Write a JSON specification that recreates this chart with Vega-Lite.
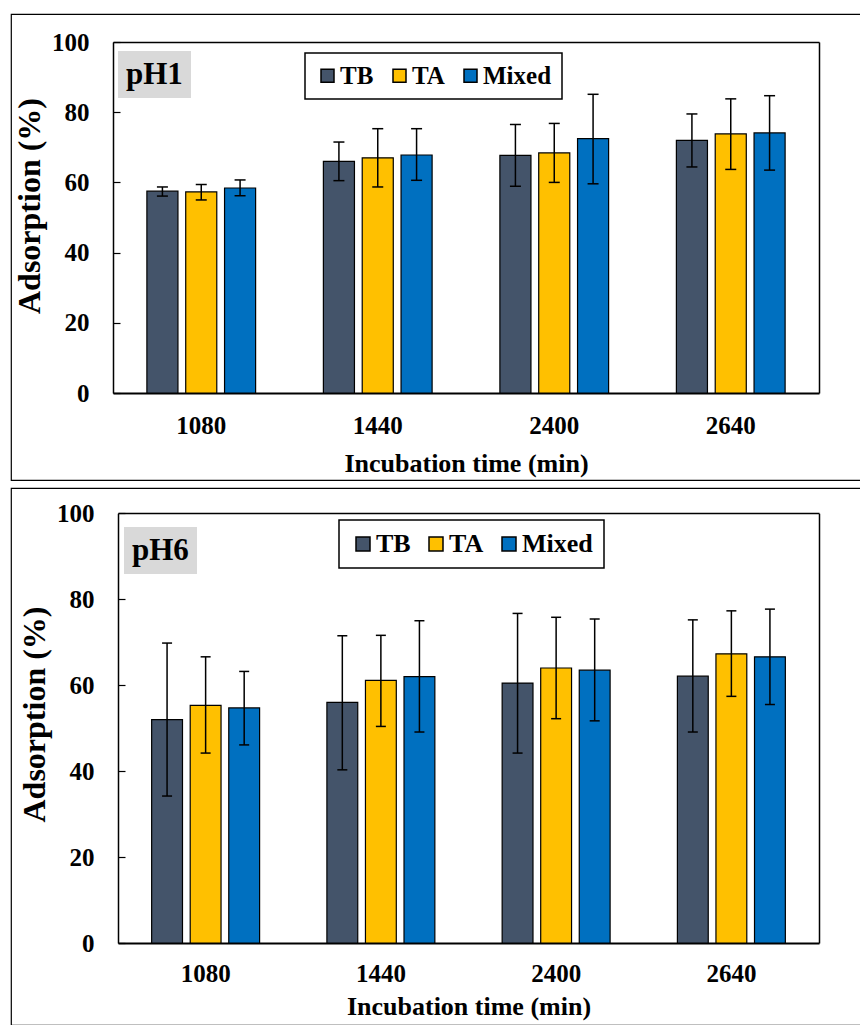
{
  "$schema": "https://vega.github.io/schema/vega-lite/v6.json",
  "padding": {"left": 10, "top": 13, "right": 0, "bottom": 0},
  "background": "white",
  "spacing": 8,
  "bounds": "flush",
  "config": {
    "view": {"stroke": "black", "strokeWidth": 1.2},
    "font": "'Liberation Serif', 'Times New Roman', serif",
    "axis": {"labelFont": "'Liberation Serif', 'Times New Roman', serif", "titleFont": "'Liberation Serif', 'Times New Roman', serif", "labelFontWeight": "bold", "titleFontWeight": "bold", "labelColor": "black", "titleColor": "black", "domainColor": "black", "tickColor": "black", "grid": false},
    "legend": {"labelFont": "'Liberation Serif', 'Times New Roman', serif", "labelFontWeight": "bold", "labelColor": "black"}
  },
  "datasets": {
    "d": [
      {"ph": "pH1", "time": "1080", "series": "TB", "value": 57.5, "lo": 56.1, "hi": 58.7},
      {"ph": "pH1", "time": "1080", "series": "TA", "value": 57.3, "lo": 55.0, "hi": 59.4},
      {"ph": "pH1", "time": "1080", "series": "Mixed", "value": 58.4, "lo": 56.2, "hi": 60.7},
      {"ph": "pH1", "time": "1440", "series": "TB", "value": 66.0, "lo": 60.5, "hi": 71.5},
      {"ph": "pH1", "time": "1440", "series": "TA", "value": 67.0, "lo": 58.7, "hi": 75.3},
      {"ph": "pH1", "time": "1440", "series": "Mixed", "value": 67.8, "lo": 60.6, "hi": 75.3},
      {"ph": "pH1", "time": "2400", "series": "TB", "value": 67.7, "lo": 58.9, "hi": 76.5},
      {"ph": "pH1", "time": "2400", "series": "TA", "value": 68.4, "lo": 60.0, "hi": 76.8},
      {"ph": "pH1", "time": "2400", "series": "Mixed", "value": 72.5, "lo": 59.6, "hi": 85.1},
      {"ph": "pH1", "time": "2640", "series": "TB", "value": 72.0, "lo": 64.4, "hi": 79.5},
      {"ph": "pH1", "time": "2640", "series": "TA", "value": 73.8, "lo": 63.7, "hi": 83.8},
      {"ph": "pH1", "time": "2640", "series": "Mixed", "value": 74.1, "lo": 63.5, "hi": 84.7},
      {"ph": "pH6", "time": "1080", "series": "TB", "value": 52.0, "lo": 34.2, "hi": 69.8},
      {"ph": "pH6", "time": "1080", "series": "TA", "value": 55.3, "lo": 44.2, "hi": 66.6},
      {"ph": "pH6", "time": "1080", "series": "Mixed", "value": 54.7, "lo": 46.1, "hi": 63.2},
      {"ph": "pH6", "time": "1440", "series": "TB", "value": 56.0, "lo": 40.3, "hi": 71.5},
      {"ph": "pH6", "time": "1440", "series": "TA", "value": 61.1, "lo": 50.4, "hi": 71.6},
      {"ph": "pH6", "time": "1440", "series": "Mixed", "value": 62.0, "lo": 49.1, "hi": 75.0},
      {"ph": "pH6", "time": "2400", "series": "TB", "value": 60.5, "lo": 44.2, "hi": 76.7},
      {"ph": "pH6", "time": "2400", "series": "TA", "value": 64.0, "lo": 52.2, "hi": 75.8},
      {"ph": "pH6", "time": "2400", "series": "Mixed", "value": 63.5, "lo": 51.7, "hi": 75.4},
      {"ph": "pH6", "time": "2640", "series": "TB", "value": 62.1, "lo": 49.1, "hi": 75.2},
      {"ph": "pH6", "time": "2640", "series": "TA", "value": 67.3, "lo": 57.4, "hi": 77.3},
      {"ph": "pH6", "time": "2640", "series": "Mixed", "value": 66.6, "lo": 55.5, "hi": 77.7}
    ]
  },
  "resolve": {
    "scale": {"x": "independent", "y": "independent", "xOffset": "independent", "strokeDash": "independent"},
    "legend": {"fill": "independent", "strokeDash": "independent"}
  },
  "vconcat": [
    {
      "width": 850,
      "height": 466,
      "data": {"name": "d"},
      "transform": [{"filter": "datum.ph === 'pH1'"}],
      "layer": [
        {
          "mark": {"type": "bar", "stroke": "black", "strokeWidth": 1.2, "opacity": 1},
          "encoding": {
            "x": {"field": "time", "type": "nominal", "sort": ["1080", "1440", "2400", "2640"],
              "scale": {"range": [102, 808], "paddingInner": 0.34, "paddingOuter": 0.17},
              "axis": {"orient": "bottom", "offset": -87, "title": "Incubation time (min)", "labelAngle": 0, "ticks": false, "tickSize": 0, "labelPadding": 20, "labelFontSize": 25, "titleFontSize": 26, "titlePadding": 12, "domainWidth": 2}},
            "xOffset": {"field": "series", "type": "nominal", "sort": ["TB", "TA", "Mixed"], "scale": {"paddingInner": 0.2, "paddingOuter": 0.1}},
            "y": {"field": "value", "type": "quantitative",
              "scale": {"domain": [0, 100], "range": [379, 28], "nice": false},
              "axis": {"orient": "left", "offset": -102, "values": [0, 20, 40, 60, 80, 100], "title": "Adsorption (%)", "tickSize": -7, "tickWidth": 1.2, "labelPadding": 31, "labelFontSize": 25, "titleFontSize": 32, "titlePadding": 5, "titleY": 191.5, "domainWidth": 1.5}},
            "fill": {"field": "series", "type": "nominal",
              "scale": {"domain": ["TB", "TA", "Mixed"], "range": ["#44546A", "#FFC000", "#0070C0"]},
              "legend": {"title": null, "orient": "none", "legendX": 294, "legendY": 39, "direction": "horizontal", "padding": 10, "columnPadding": 13, "labelOffset": 0, "symbolType": "square", "symbolSize": 169, "symbolStrokeColor": "black", "symbolStrokeWidth": 1.5, "symbolOpacity": 1, "labelFontSize": 25, "strokeColor": "black", "fillColor": "white",
                "encode": {"legend": {"update": {"strokeWidth": {"value": 1.5}}}}}}
          }
        },
        {
          "mark": {"type": "rule", "color": "black", "strokeWidth": 1.5, "opacity": 1},
          "encoding": {
            "x": {"field": "time", "type": "nominal", "sort": ["1080", "1440", "2400", "2640"],
              "axis": {"orient": "top", "offset": -28, "labels": false, "ticks": false, "title": null, "domainWidth": 1.5}},
            "xOffset": {"field": "series", "type": "nominal", "sort": ["TB", "TA", "Mixed"]},
            "y": {"field": "lo", "type": "quantitative",
              "axis": {"orient": "right", "offset": -42, "labels": false, "ticks": false, "title": null, "domainWidth": 1.5}},
            "y2": {"field": "hi"},
            "strokeDash": {"field": "ph", "type": "nominal", "scale": {"range": [[1, 0]]},
              "legend": {"title": null, "orient": "none", "legendX": 107, "legendY": 37, "padding": 8, "fillColor": "#d9d9d9", "labelFontSize": 31, "labelOffset": -31, "symbolType": "circle", "symbolSize": 0, "symbolStrokeWidth": 0, "symbolOpacity": 0}}
          }
        },
        {
          "mark": {"type": "tick", "color": "black", "thickness": 1.5, "size": 11, "opacity": 1},
          "encoding": {
            "x": {"field": "time", "type": "nominal", "sort": ["1080", "1440", "2400", "2640"], "axis": null},
            "xOffset": {"field": "series", "type": "nominal", "sort": ["TB", "TA", "Mixed"]},
            "y": {"field": "lo", "type": "quantitative", "axis": null}
          }
        },
        {
          "mark": {"type": "tick", "color": "black", "thickness": 1.5, "size": 11, "opacity": 1},
          "encoding": {
            "x": {"field": "time", "type": "nominal", "sort": ["1080", "1440", "2400", "2640"], "axis": null},
            "xOffset": {"field": "series", "type": "nominal", "sort": ["TB", "TA", "Mixed"]},
            "y": {"field": "hi", "type": "quantitative", "axis": null}
          }
        }
      ]
    },
    {
      "width": 850,
      "height": 537,
      "data": {"name": "d"},
      "transform": [{"filter": "datum.ph === 'pH6'"}],
      "layer": [
        {
          "mark": {"type": "bar", "stroke": "black", "strokeWidth": 1.2, "opacity": 1},
          "encoding": {
            "x": {"field": "time", "type": "nominal", "sort": ["1080", "1440", "2400", "2640"],
              "scale": {"range": [107, 808], "paddingInner": 0.34, "paddingOuter": 0.17},
              "axis": {"orient": "bottom", "offset": -82, "title": "Incubation time (min)", "labelAngle": 0, "ticks": false, "tickSize": 0, "labelPadding": 18, "labelFontSize": 25, "titleFontSize": 26, "titlePadding": 7, "domainWidth": 2}},
            "xOffset": {"field": "series", "type": "nominal", "sort": ["TB", "TA", "Mixed"], "scale": {"paddingInner": 0.2, "paddingOuter": 0.1}},
            "y": {"field": "value", "type": "quantitative",
              "scale": {"domain": [0, 100], "range": [455, 25.3], "nice": false},
              "axis": {"orient": "left", "offset": -107, "values": [0, 20, 40, 60, 80, 100], "title": "Adsorption (%)", "tickSize": -7, "tickWidth": 1.2, "labelPadding": 31, "labelFontSize": 25, "titleFontSize": 32, "titlePadding": 5, "titleY": 226, "domainWidth": 1.5}},
            "fill": {"field": "series", "type": "nominal",
              "scale": {"domain": ["TB", "TA", "Mixed"], "range": ["#44546A", "#FFC000", "#0070C0"]},
              "legend": {"title": null, "orient": "none", "legendX": 328, "legendY": 32, "direction": "horizontal", "padding": 11, "columnPadding": 12, "labelOffset": 0, "symbolType": "square", "symbolSize": 196, "symbolStrokeColor": "black", "symbolStrokeWidth": 1.5, "symbolOpacity": 1, "labelFontSize": 26, "strokeColor": "black", "fillColor": "white",
                "encode": {"legend": {"update": {"strokeWidth": {"value": 1.5}}}}}}
          }
        },
        {
          "mark": {"type": "rule", "color": "black", "strokeWidth": 1.5, "opacity": 1},
          "encoding": {
            "x": {"field": "time", "type": "nominal", "sort": ["1080", "1440", "2400", "2640"],
              "axis": {"orient": "top", "offset": -25, "labels": false, "ticks": false, "title": null, "domainWidth": 1.5}},
            "xOffset": {"field": "series", "type": "nominal", "sort": ["TB", "TA", "Mixed"]},
            "y": {"field": "lo", "type": "quantitative",
              "axis": {"orient": "right", "offset": -42, "labels": false, "ticks": false, "title": null, "domainWidth": 1.5}},
            "y2": {"field": "hi"},
            "strokeDash": {"field": "ph", "type": "nominal", "scale": {"range": [[1, 0]]},
              "legend": {"title": null, "orient": "none", "legendX": 113, "legendY": 39, "padding": 8, "fillColor": "#d9d9d9", "labelFontSize": 31, "labelOffset": -31, "symbolType": "circle", "symbolSize": 0, "symbolStrokeWidth": 0, "symbolOpacity": 0}}
          }
        },
        {
          "mark": {"type": "tick", "color": "black", "thickness": 1.5, "size": 10, "opacity": 1},
          "encoding": {
            "x": {"field": "time", "type": "nominal", "sort": ["1080", "1440", "2400", "2640"], "axis": null},
            "xOffset": {"field": "series", "type": "nominal", "sort": ["TB", "TA", "Mixed"]},
            "y": {"field": "lo", "type": "quantitative", "axis": null}
          }
        },
        {
          "mark": {"type": "tick", "color": "black", "thickness": 1.5, "size": 10, "opacity": 1},
          "encoding": {
            "x": {"field": "time", "type": "nominal", "sort": ["1080", "1440", "2400", "2640"], "axis": null},
            "xOffset": {"field": "series", "type": "nominal", "sort": ["TB", "TA", "Mixed"]},
            "y": {"field": "hi", "type": "quantitative", "axis": null}
          }
        }
      ]
    }
  ]
}
